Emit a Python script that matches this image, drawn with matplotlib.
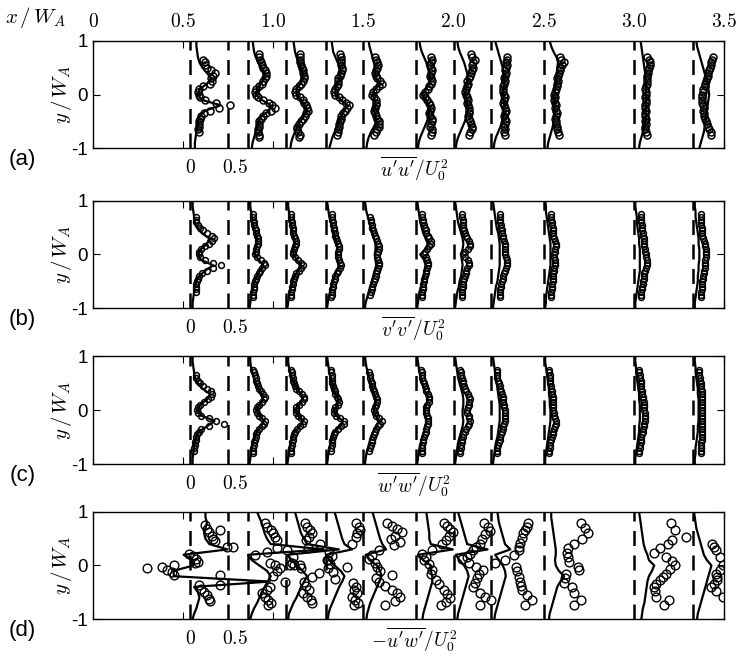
import matplotlib
matplotlib.use('Agg')
import matplotlib.pyplot as plt
import numpy as np

plt.rcParams['mathtext.fontset'] = 'cm'
plt.rcParams['font.family'] = ['Liberation Sans', 'DejaVu Sans']

# measuring stations x/W_A and profile scale (x/W_A per unit of stress)
stations = [0.54, 0.86, 1.07, 1.29, 1.50, 1.79, 2.00, 2.21, 2.50, 3.00, 3.33]
scale = 0.42

y_exp = [-0.80, -0.75, -0.70, -0.65, -0.60, -0.55, -0.50, -0.45, -0.40, -0.35, -0.30,
         -0.25, -0.20, -0.15, -0.10, -0.05, 0.00, 0.05, 0.10, 0.15, 0.20, 0.25,
         0.30, 0.35, 0.40, 0.45, 0.50, 0.55, 0.60, 0.65, 0.70, 0.75]
y_les = [-1.0, -0.9, -0.8, -0.7, -0.6, -0.5, -0.4, -0.3, -0.2, -0.1, 0.0,
         0.1, 0.2, 0.3, 0.4, 0.5, 0.6, 0.7, 0.8, 0.9, 1.0]

N = None

# (a) u'u'
uu_exp = [
    [N, N, .12, .10, .12, .11, .12, .13, .14, .18, .26, .38, .52, .34, .20, .13, .11, .10, .11, .17, .26, .29, .27, .30, .32, .27, .22, .20, .20, .17, N, N],
    [.15, .14, .13, .13, .14, .14, .15, .17, .20, .24, .30, .35, .32, .28, .20, .13, .10, .09, .11, .15, .18, .20, .22, .24, .24, .22, .20, .18, .17, .16, .15, .15],
    [.17, .18, .16, .15, .15, .17, .20, .23, .25, .27, .29, .28, .26, .24, .22, .18, .14, .12, .14, .17, .20, .22, .24, .24, .23, .22, .21, .20, .19, .18, .18, .18],
    [N, .15, .16, .17, .18, .18, .19, .20, .21, .23, .26, .29, .31, .27, .22, .18, .12, .11, .13, .15, .16, .16, .17, .19, .21, .22, .22, .21, .20, .20, .20, .19],
    [N, .14, .16, .18, .20, .21, .20, .18, .16, .15, .14, .15, .16, .17, .16, .14, .12, .13, .16, .20, .25, .22, .18, .16, .15, .16, .18, .19, .18, .16, .15, N],
    [N, .20, .22, .21, .19, .20, .22, .21, .19, .18, .19, .20, .19, .17, .15, .12, .10, .12, .16, .18, .20, .21, .20, .19, .20, .21, .20, .19, .20, .21, .20, N],
    [N, .20, .22, .24, .24, .23, .22, .20, .19, .20, .21, .20, .19, .18, .19, .18, .16, .15, .16, .18, .19, .18, .20, .22, .23, .25, .26, .24, .26, .28, .24, .23],
    [N, .18, .17, .18, .17, .18, .19, .18, .17, .18, .19, .18, .17, .16, .17, .18, .17, .16, .15, .16, .17, .18, .17, .18, .19, .18, .19, .20, .19, .20, .21, N],
    [N, .20, .19, .18, .17, .16, .16, .15, .16, .17, .16, .15, .16, .15, .14, .15, .14, .15, .16, .17, .18, .19, .18, .19, .20, .21, .22, .24, .27, .23, .22, N],
    [N, .17, .16, .15, .15, .16, .15, .16, .15, .15, .16, .15, .15, .16, .16, .15, .16, .16, .15, .16, .17, .17, .18, .18, .19, .19, .20, .21, .22, .20, .18, N],
    [N, .24, .23, .21, .19, .18, .17, .15, .14, .14, .13, .14, .13, .12, .12, .11, .12, .13, .13, .15, .16, .17, .18, .19, .20, .21, .22, .23, .24, .25, .26, N],
]
uu_les = [
    [.06, .06, .07, .08, .09, .10, .12, .20, .40, .15, .10, .12, .22, .28, .22, .16, .12, .10, .09, .08, .08],
    [.05, .06, .08, .10, .12, .14, .18, .28, .30, .18, .10, .12, .17, .22, .22, .18, .14, .10, .08, .07, .06],
    [.06, .07, .09, .12, .15, .19, .24, .28, .25, .20, .14, .14, .19, .23, .22, .20, .17, .14, .12, .11, .10],
    [.05, .07, .09, .12, .15, .18, .21, .25, .28, .20, .13, .13, .16, .18, .20, .19, .16, .13, .10, .09, .08],
    [.04, .05, .07, .10, .14, .17, .16, .14, .16, .15, .12, .15, .22, .17, .15, .15, .14, .12, .10, .08, .07],
    [.03, .04, .06, .09, .12, .15, .17, .18, .17, .14, .08, .14, .18, .19, .18, .16, .14, .11, .08, .06, .05],
    [.03, .04, .06, .09, .12, .15, .17, .18, .18, .17, .15, .16, .18, .19, .18, .16, .14, .11, .08, .06, .05],
    [.03, .04, .06, .09, .12, .14, .16, .17, .17, .16, .15, .16, .17, .17, .16, .15, .13, .11, .09, .07, .05],
    [.05, .06, .08, .10, .12, .13, .14, .14, .14, .14, .14, .15, .16, .17, .18, .18, .19, .17, .13, .10, .08],
    [.07, .08, .10, .12, .14, .15, .16, .16, .16, .16, .16, .16, .16, .15, .15, .14, .13, .12, .11, .10, .09],
    [.08, .10, .12, .14, .15, .16, .17, .18, .19, .20, .21, .20, .19, .17, .15, .13, .11, .09, .07, .05, .04],
]

# (b) v'v'
vv_exp = [
    [N, N, .07, .07, .07, .08, .09, .10, .12, .16, .22, .30, .40, .30, .20, .13, .11, .11, .14, .19, .24, .28, .31, .28, .22, .17, .13, .10, .08, .07, .07, N],
    [.07, .07, .07, .08, .08, .08, .09, .10, .12, .14, .16, .19, .22, .21, .17, .12, .09, .10, .11, .12, .13, .13, .13, .12, .11, .10, .09, .08, .08, .07, .07, .07],
    [.07, .07, .07, .08, .08, .09, .10, .11, .12, .14, .17, .20, .22, .20, .16, .12, .10, .10, .11, .12, .13, .13, .12, .11, .10, .09, .09, .08, .08, .07, .07, .07],
    [.07, .08, .08, .09, .10, .10, .11, .12, .13, .15, .17, .19, .20, .19, .18, .17, .17, .17, .18, .18, .17, .15, .14, .13, .12, .11, .11, .10, .10, .09, .09, .09],
    [N, .09, .10, .11, .12, .13, .14, .15, .16, .17, .18, .19, .20, .20, .19, .18, .18, .19, .20, .20, .19, .18, .17, .15, .14, .13, .12, .11, .10, .10, .09, N],
    [.09, .09, .09, .10, .10, .10, .11, .11, .12, .13, .14, .15, .16, .16, .15, .13, .11, .12, .15, .18, .20, .20, .18, .16, .14, .13, .12, .11, .10, .10, .09, .09],
    [.11, .11, .11, .11, .12, .12, .13, .14, .15, .16, .17, .18, .20, .21, .19, .15, .13, .15, .19, .22, .22, .20, .18, .16, .15, .14, .13, .13, .12, .12, .11, .11],
    [.12, .12, .12, .12, .13, .13, .14, .15, .16, .17, .18, .19, .20, .20, .20, .19, .18, .18, .18, .18, .18, .17, .16, .15, .14, .14, .13, .13, .12, .12, .12, .12],
    [.10, .10, .10, .11, .11, .11, .12, .12, .13, .13, .14, .14, .15, .15, .15, .14, .14, .15, .15, .16, .16, .15, .14, .13, .13, .12, .12, .11, .11, .10, .10, .10],
    [.10, .10, .10, .11, .11, .12, .12, .13, .13, .14, .15, .16, .17, .18, .17, .16, .16, .15, .15, .14, .14, .13, .13, .12, .12, .11, .11, .11, .10, .10, .10, .10],
    [.10, .10, .10, .11, .11, .12, .12, .13, .13, .14, .14, .15, .15, .16, .16, .17, .17, .17, .17, .16, .15, .14, .13, .12, .12, .11, .11, .10, .10, .10, .10, .10],
]
vv_les = [
    [.03, .03, .04, .05, .06, .08, .12, .20, .30, .14, .10, .14, .22, .25, .15, .09, .06, .05, .04, .03, .03],
    [.02, .03, .04, .05, .07, .09, .12, .16, .20, .14, .09, .10, .12, .12, .10, .08, .06, .05, .04, .03, .03],
    [.02, .03, .04, .05, .07, .09, .12, .16, .20, .14, .10, .10, .12, .11, .09, .08, .06, .05, .04, .03, .03],
    [.02, .03, .04, .06, .08, .10, .12, .15, .18, .16, .15, .16, .15, .13, .11, .09, .07, .05, .04, .03, .02],
    [.02, .03, .05, .07, .09, .11, .13, .15, .17, .16, .15, .16, .16, .14, .12, .10, .08, .06, .04, .03, .02],
    [.02, .03, .04, .05, .07, .09, .11, .12, .13, .11, .06, .13, .16, .13, .10, .08, .06, .05, .04, .03, .02],
    [.02, .03, .04, .05, .07, .08, .10, .11, .12, .11, .10, .12, .13, .12, .10, .08, .06, .05, .04, .03, .02],
    [.02, .03, .04, .05, .06, .08, .09, .10, .11, .11, .11, .11, .11, .10, .09, .07, .06, .05, .04, .03, .02],
    [.02, .03, .03, .04, .05, .06, .07, .08, .09, .09, .09, .09, .09, .08, .07, .06, .05, .04, .03, .03, .02],
    [.02, .02, .03, .04, .05, .06, .07, .08, .08, .08, .08, .08, .07, .07, .06, .05, .04, .04, .03, .02, .02],
    [.02, .02, .03, .04, .05, .06, .06, .07, .07, .08, .08, .08, .07, .07, .06, .05, .04, .03, .03, .02, .02],
]

# (c) w'w'
ww_exp = [
    [N, .05, .05, .06, .06, .07, .08, .09, .11, .14, .25, .45, .34, .24, .14, .10, .09, .10, .13, .18, .23, .27, .29, .27, .22, .17, .13, .10, .08, .07, N, N],
    [.07, .07, .07, .08, .08, .09, .10, .11, .12, .15, .18, .21, .22, .19, .15, .12, .11, .12, .15, .18, .21, .22, .20, .17, .15, .13, .12, .11, .10, .09, .08, .07],
    [.07, .07, .07, .08, .08, .09, .10, .11, .12, .15, .19, .23, .24, .20, .16, .14, .13, .14, .17, .21, .24, .24, .21, .17, .14, .12, .11, .10, .09, .08, .08, .07],
    [N, .07, .07, .08, .08, .09, .10, .11, .13, .16, .20, .24, .24, .19, .14, .11, .11, .13, .17, .18, .17, .15, .13, .12, .11, .10, .09, .09, .08, .08, .07, .07],
    [N, .08, .09, .10, .11, .12, .13, .14, .15, .17, .19, .22, .24, .21, .17, .15, .14, .15, .17, .18, .18, .17, .15, .14, .13, .12, .11, .10, .09, .09, .08, N],
    [.08, .09, .09, .09, .10, .10, .11, .12, .13, .14, .15, .16, .16, .16, .15, .13, .13, .14, .15, .17, .18, .18, .16, .14, .13, .12, .11, .10, .09, .09, .08, .07],
    [.09, .09, .10, .10, .11, .11, .12, .13, .15, .17, .19, .21, .22, .21, .20, .18, .18, .19, .20, .21, .22, .21, .19, .17, .15, .14, .13, .12, .11, .10, .10, .09],
    [.07, .08, .08, .09, .10, .11, .12, .13, .14, .15, .16, .17, .18, .18, .18, .18, .18, .17, .17, .16, .16, .15, .14, .13, .12, .11, .10, .09, .08, .08, .07, .07],
    [.07, .07, .08, .08, .09, .10, .11, .12, .13, .14, .15, .16, .16, .15, .14, .14, .13, .13, .13, .12, .12, .12, .11, .11, .10, .10, .09, .09, .08, .08, .07, .07],
    [.07, .07, .08, .08, .09, .10, .10, .11, .12, .12, .13, .14, .15, .15, .15, .15, .14, .14, .13, .13, .12, .12, .11, .11, .10, .10, .09, .09, .08, .08, .07, .07],
    [.10, .10, .10, .10, .10, .11, .11, .11, .11, .12, .12, .12, .12, .12, .12, .12, .12, .12, .12, .12, .12, .11, .11, .11, .10, .10, .10, .09, .09, .08, .08, .08],
]
ww_les = [
    [.03, .03, .04, .05, .06, .08, .11, .22, .32, .14, .09, .13, .22, .26, .16, .10, .06, .05, .04, .03, .03],
    [.02, .03, .04, .05, .07, .09, .12, .17, .21, .15, .11, .15, .20, .18, .14, .11, .08, .06, .04, .03, .03],
    [.02, .03, .04, .05, .07, .09, .12, .18, .23, .16, .13, .17, .23, .20, .14, .11, .08, .06, .04, .03, .03],
    [.02, .03, .04, .05, .07, .09, .12, .19, .23, .14, .11, .16, .17, .13, .11, .09, .07, .05, .04, .03, .02],
    [.02, .03, .04, .06, .08, .10, .13, .17, .20, .16, .14, .16, .17, .14, .12, .10, .08, .06, .04, .03, .02],
    [.02, .03, .04, .05, .07, .09, .11, .13, .14, .13, .12, .14, .16, .14, .11, .09, .07, .05, .04, .03, .02],
    [.02, .03, .04, .05, .06, .08, .10, .12, .13, .12, .12, .13, .13, .12, .10, .08, .06, .05, .04, .03, .02],
    [.02, .03, .04, .05, .06, .08, .09, .10, .11, .11, .11, .11, .10, .09, .08, .07, .06, .05, .04, .03, .02],
    [.02, .02, .03, .04, .05, .06, .07, .08, .09, .09, .09, .08, .08, .07, .07, .06, .05, .04, .03, .02, .02],
    [.02, .02, .03, .04, .05, .06, .07, .07, .08, .08, .08, .08, .07, .07, .06, .05, .04, .03, .03, .02, .02],
    [.02, .02, .03, .03, .04, .05, .06, .06, .07, .07, .07, .07, .07, .06, .06, .05, .04, .03, .03, .02, .02],
]

# (d) -u'w' : scattered measurements, (y, value) per station
uw_exp_y = [
    [-0.05, -0.02, -0.08, 0.01, -0.12, -0.18, 0.22, 0.17, 0.12, 0.07, 0.04, -0.36, -0.43, -0.50, -0.56, -0.62, -0.67, -0.18, -0.36, 0.75, 0.68, 0.62, 0.56, 0.50, 0.45, 0.66, 0.35, 0.35],
    [0.79, 0.72, 0.66, 0.60, 0.54, 0.48, 0.32, 0.25, 0.20, 0.05, 0.00, -0.05, -0.11, -0.20, -0.30, -0.40, -0.46, -0.52, -0.58, -0.64, -0.70, -0.74, 0.00, 0.00],
    [0.79, 0.72, 0.66, 0.60, 0.54, 0.48, 0.32, 0.29, 0.15, 0.05, 0.00, -0.05, -0.14, -0.22, -0.30, -0.38, -0.46, -0.52, -0.58, -0.64, -0.70, 0.40, 0.10],
    [0.79, 0.72, 0.66, 0.60, 0.54, 0.40, 0.25, 0.18, 0.10, 0.02, -0.05, -0.12, -0.02, -0.25, -0.32, -0.40, -0.46, -0.52, -0.58, -0.64, -0.70, -0.74],
    [0.79, 0.74, 0.68, 0.62, 0.56, 0.50, 0.44, 0.38, 0.29, 0.20, 0.12, 0.05, -0.02, -0.10, -0.18, -0.24, -0.30, -0.38, -0.46, -0.52, -0.58, -0.66, -0.74],
    [0.79, 0.74, 0.68, 0.62, 0.55, 0.48, 0.41, 0.29, 0.22, 0.16, 0.10, 0.02, -0.08, -0.16, -0.27, -0.35, -0.46, -0.54, -0.61, -0.68, -0.74],
    [0.79, 0.72, 0.65, 0.58, 0.50, 0.41, 0.35, 0.29, 0.22, 0.16, 0.13, 0.05, -0.02, -0.08, -0.16, -0.24, -0.32, -0.40, -0.52, -0.58, -0.65, -0.74],
    [0.79, 0.72, 0.66, 0.60, 0.52, 0.42, 0.35, 0.29, 0.20, 0.10, 0.05, -0.02, -0.10, -0.21, -0.30, -0.38, -0.46, -0.55, -0.65, -0.74],
    [0.79, 0.70, 0.60, 0.50, 0.41, 0.32, 0.24, 0.16, 0.07, -0.02, -0.08, -0.15, -0.24, -0.33, -0.40, -0.52, -0.65, -0.74],
    [0.79, 0.67, 0.54, 0.48, 0.41, 0.32, 0.23, 0.16, 0.08, 0.01, -0.07, -0.15, -0.21, -0.27, -0.34, -0.40, -0.48, -0.58, -0.65, -0.74],
    [0.41, 0.35, 0.29, 0.15, 0.00, -0.08, -0.15, -0.22, -0.27, -0.34, -0.40, -0.48, -0.58],
]
uw_exp_v = [
    [-0.57, -0.37, -0.31, -0.22, -0.24, -0.22, -0.02, 0.04, 0.08, 0.10, 0.06, 0.11, 0.14, 0.18, 0.22, 0.24, 0.26, 0.39, 0.39, 0.20, 0.22, 0.25, 0.28, 0.30, 0.33, 0.39, 0.48, 0.57],
    [0.22, 0.25, 0.30, 0.33, 0.36, 0.38, 0.38, 0.25, 0.09, 0.29, 0.35, 0.42, 0.38, 0.33, 0.49, 0.29, 0.25, 0.18, 0.22, 0.27, 0.31, 0.26, 0.55, 0.68],
    [0.25, 0.28, 0.32, 0.35, 0.30, 0.27, 0.29, 0.02, 0.10, 0.08, 0.11, 0.20, 0.44, 0.35, 0.24, 0.26, 0.30, 0.22, 0.28, 0.33, 0.35, 0.45, 0.55],
    [0.40, 0.44, 0.46, 0.42, 0.40, 0.35, 0.05, 0.08, 0.02, 0.06, 0.03, 0.10, 0.29, 0.12, 0.36, 0.40, 0.38, 0.42, 0.35, 0.39, 0.43, 0.37],
    [0.31, 0.38, 0.45, 0.51, 0.42, 0.36, 0.48, 0.40, 0.20, 0.12, 0.08, 0.15, 0.18, 0.22, 0.38, 0.16, 0.20, 0.28, 0.38, 0.44, 0.49, 0.42, 0.29],
    [0.38, 0.42, 0.46, 0.49, 0.44, 0.40, 0.35, 0.22, 0.08, 0.14, 0.11, 0.18, 0.22, 0.20, 0.27, 0.31, 0.38, 0.42, 0.46, 0.40, 0.33],
    [0.40, 0.45, 0.48, 0.42, 0.38, 0.35, 0.30, 0.26, 0.22, 0.18, 0.11, 0.20, 0.30, 0.39, 0.34, 0.31, 0.28, 0.26, 0.35, 0.42, 0.50, 0.35],
    [0.49, 0.47, 0.45, 0.42, 0.40, 0.38, 0.37, 0.36, 0.30, 0.18, 0.05, 0.32, 0.34, 0.36, 0.38, 0.39, 0.40, 0.47, 0.54, 0.45],
    [0.49, 0.55, 0.58, 0.51, 0.40, 0.32, 0.31, 0.32, 0.33, 0.45, 0.47, 0.29, 0.28, 0.27, 0.38, 0.40, 0.49, 0.40],
    [0.49, 0.54, 0.69, 0.50, 0.45, 0.34, 0.27, 0.43, 0.50, 0.54, 0.48, 0.43, 0.38, 0.34, 0.30, 0.27, 0.28, 0.29, 0.47, 0.40],
    [0.25, 0.28, 0.30, 0.35, 0.39, 0.35, 0.30, 0.31, 0.32, 0.27, 0.23, 0.30, 0.39],
]
uw_les = [
    [.03, .05, .08, .10, .12, .10, .05, 1.05, -.22, -.22, .04, .03, -.09, .49, .25, .20, .18, .20, .22, .20, .20],
    [.03, .05, .08, .12, .15, .18, .22, .26, .30, .25, .15, .05, .00, 1.00, .30, .25, .22, .20, .18, .15, .12],
    [.03, .04, .07, .10, .14, .17, .20, .24, .28, .22, .15, .08, .02, .70, .28, .24, .20, .18, .16, .14, .12],
    [.03, .04, .06, .09, .12, .15, .18, .22, .25, .20, .12, .05, .01, .35, .25, .22, .20, .18, .16, .14, .12],
    [.04, .05, .07, .09, .12, .15, .18, .21, .24, .22, .18, .08, .03, .30, .25, .22, .20, .18, .16, .14, .12],
    [.09, .10, .12, .14, .16, .18, .20, .22, .22, .20, .20, .10, .03, .49, .20, .18, .18, .17, .16, .15, .14],
    [.05, .06, .08, .10, .12, .14, .16, .18, .20, .18, .14, .08, .03, .45, .18, .16, .14, .12, .10, .08, .06],
    [.04, .05, .07, .09, .11, .13, .15, .17, .19, .18, .15, .10, .05, .25, .18, .16, .14, .12, .10, .09, .08],
    [.07, .08, .10, .12, .14, .16, .18, .22, .27, .20, .16, .15, .16, .16, .15, .14, .13, .12, .11, .10, .10],
    [.10, .11, .12, .14, .15, .16, .17, .18, .20, .24, .27, .20, .18, .15, .13, .12, .11, .10, .09, .08, .07],
    [.05, .06, .08, .10, .12, .14, .16, .18, .20, .22, .24, .18, .14, .12, .10, .08, .06, .04, .03, .02, .01],
]

panels = ['(a)', '(b)', '(c)', '(d)']
qty_labels = [r'$\overline{u^\prime u^\prime}/U_0^2$', r'$\overline{v^\prime v^\prime}/U_0^2$',
              r'$\overline{w^\prime w^\prime}/U_0^2$', r'$-\overline{u^\prime w^\prime}/U_0^2$']
x_ticks = [0, 0.5, 1.0, 1.5, 2.0, 2.5, 3.0, 3.5]
x_ticklabels = ['$0$', '$0.5$', '$1.0$', '$1.5$', '$2.0$', '$2.5$', '$3.0$', '$3.5$']

fig = plt.figure(figsize=(7.44, 6.61), dpi=100)
rects = [[0.125, 0.776, 0.848, 0.162], [0.125, 0.534, 0.848, 0.162],
         [0.125, 0.298, 0.848, 0.163], [0.125, 0.0635, 0.848, 0.162]]

exp_sets = [uu_exp, vv_exp, ww_exp]
les_sets = [uu_les, vv_les, ww_les, uw_les]
msizes = [5.0, 4.2, 4.2, 6.3]
dash = (0, (6.0, 3.8))

for p in range(4):
    ax = fig.add_axes(rects[p])
    for k, xs in enumerate(stations):
        ax.axvline(xs, color='k', ls=dash, lw=1.8, zorder=2)
        ax.plot(xs + scale * np.array(les_sets[p][k]), y_les, '-', color='k', lw=1.6, zorder=3)
        if p < 3:
            vals = np.array(exp_sets[p][k], dtype=float)
            ax.plot(xs + scale * vals, y_exp, 'o', mfc='none', mec='k',
                    ms=msizes[p], mew=1.1, zorder=4)
        else:
            ax.plot(xs + scale * np.array(uw_exp_v[k]), uw_exp_y[k], 'o', mfc='none',
                    mec='k', ms=msizes[p], mew=1.0, zorder=4)
    # reference line for the 0.5 stress level of the first station
    ax.axvline(stations[0] + scale * 0.5, color='k', ls=dash, lw=1.8, zorder=2)

    ax.set_xlim(0, 3.5)
    ax.set_ylim(-1, 1)
    ax.set_xticks(x_ticks)
    ax.set_yticks([-1, 0, 1])
    ax.set_yticklabels(['-1', '0', '1'])
    ax.tick_params(axis='both', direction='in', length=5, width=0.8,
                   top=True, right=True, labelsize=13.5)
    if p == 0:
        ax.tick_params(axis='x', labeltop=True, labelbottom=False, pad=7)
        ax.set_xticklabels(x_ticklabels, fontsize=14)
    else:
        ax.tick_params(axis='x', labelbottom=False)
    for s in ax.spines.values():
        s.set_linewidth(1.0)
    ax.set_ylabel(r'$y\,/\,W_A$', fontsize=15, labelpad=-2)

    ax.text(stations[0], -1.38, '$0$', ha='center', va='center', fontsize=14)
    ax.text(stations[0] + 0.245, -1.38, '$0.5$', ha='center', va='center', fontsize=14)
    ax.text(1.78, -1.38, qty_labels[p], ha='center', va='center', fontsize=14)
    ax.text(-0.39, -1.22, panels[p], ha='center', va='center', fontsize=16)

fig.text(35 / 744, 1 - 18 / 661, r'$x\,/\,W_A$', ha='center', va='center', fontsize=15)

fig.savefig('out.png', dpi=100)
